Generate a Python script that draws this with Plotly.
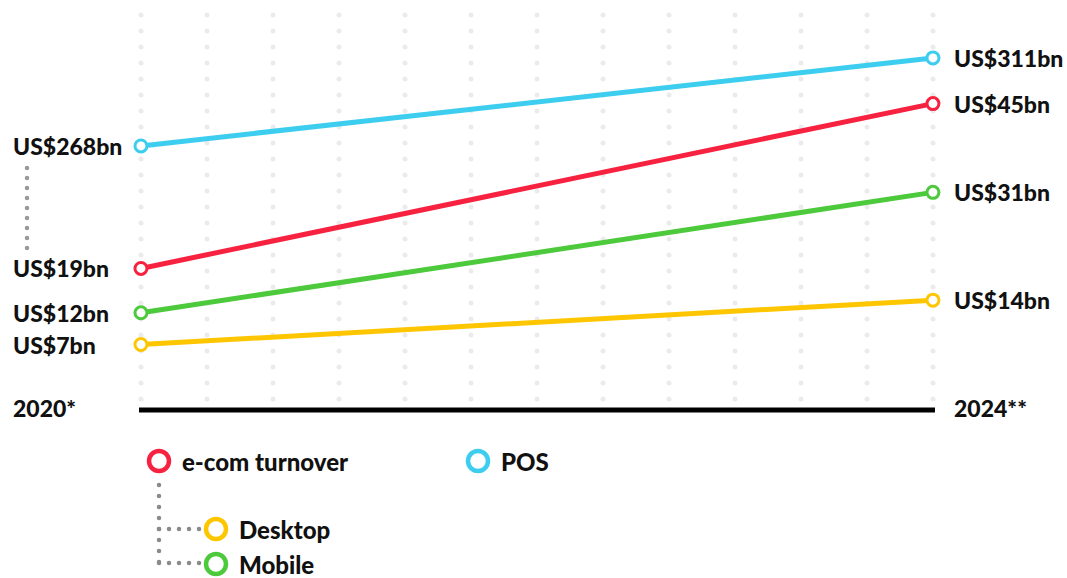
import numpy as np
import plotly.graph_objects as go

# ---- data -------------------------------------------------------------
years = [2020, 2024]
year_labels = ["2020*", "2024**"]
pos_values = [268, 311]        # point-of-sale turnover, US$bn
ecom_values = [19, 45]         # e-commerce turnover, US$bn
mobile_values = [12, 31]
desktop_values = [7, 14]

C_POS = "#3ccdef"
C_ECOM = "#f7223f"
C_MOBILE = "#4dc93c"
C_DESKTOP = "#fdc600"
TEXT = "#111111"
FONT = "Lato"
FSIZE = 23
W, H = 1067, 578

fig = go.Figure()

# ---- background dotted verticals (base pixel axes: x / y) --------------
grid_x = np.linspace(141, 933, 13)
grid_y = np.arange(15, 400, 16)
gx, gy = np.meshgrid(grid_x, grid_y)
fig.add_trace(go.Scatter(
    x=gx.ravel(), y=gy.ravel(), mode="markers",
    marker=dict(size=5, color="#ebebeb"), hoverinfo="skip", showlegend=False))

# baseline
fig.add_shape(type="line", xref="x", yref="y", x0=139, x1=935, y0=410, y1=410,
              line=dict(color="#000000", width=5))

# axis-break connector between the POS and e-com labels
brk_y = np.arange(168, 251, 10)
fig.add_trace(go.Scatter(
    x=[27] * len(brk_y), y=brk_y, mode="markers",
    marker=dict(size=4.5, color="#999999"), hoverinfo="skip", showlegend=False))

# ---- series lines (year axis x2, value axes y2 / y3) -------------------
def add_series(values, color, yaxis):
    fig.add_trace(go.Scatter(
        x=years, y=values, mode="lines+markers", xaxis="x2", yaxis=yaxis,
        line=dict(color=color, width=5),
        marker=dict(size=12, color="white", line=dict(color=color, width=3)),
        hoverinfo="skip", showlegend=False, cliponaxis=False))
    for x, v, shift in zip(years, values, (-130, 19)):
        fig.add_annotation(
            x=x, y=v, xref="x2", yref=yaxis, text=f"US${v}bn",
            showarrow=False, xanchor="left", xshift=shift,
            font=dict(family=FONT, size=FSIZE, color=TEXT, weight=900))

add_series(desktop_values, C_DESKTOP, "y2")
add_series(mobile_values, C_MOBILE, "y2")
add_series(ecom_values, C_ECOM, "y2")
add_series(pos_values, C_POS, "y3")

# year labels at the baseline
for x, lab, shift in zip(years, year_labels, (-130, 19)):
    fig.add_annotation(x=x, y=408, xref="x2", yref="y", text=lab,
                       showarrow=False, xanchor="left", xshift=shift,
                       font=dict(family=FONT, size=FSIZE, color=TEXT, weight=900))

# ---- legend -------------------------------------------------------------
conn_v = np.arange(485, 566, 11)
conn_h = np.arange(159, 200, 10)
fig.add_trace(go.Scatter(
    x=np.concatenate([[159] * len(conn_v), conn_h, conn_h]),
    y=np.concatenate([conn_v, [529] * len(conn_h), [563] * len(conn_h)]),
    mode="markers",
    marker=dict(size=4.5, color="#8a8a8a"), hoverinfo="skip", showlegend=False))

legend_items = [
    ("e-com turnover", C_ECOM, 159, 461),
    ("POS", C_POS, 478, 461),
    ("Desktop", C_DESKTOP, 216, 529),
    ("Mobile", C_MOBILE, 216, 564),
]
for name, color, lx, ly in legend_items:
    fig.add_trace(go.Scatter(
        x=[lx], y=[ly], mode="markers",
        marker=dict(size=20, color="white", line=dict(color=color, width=4.5)),
        hoverinfo="skip", showlegend=False, cliponaxis=False))
    fig.add_annotation(x=lx + 21, y=ly, xref="x", yref="y", text=name,
                       showarrow=False, xanchor="left",
                       font=dict(family=FONT, size=24, color=TEXT, weight=900))

# ---- layout -------------------------------------------------------------
hidden = dict(visible=False, showgrid=False, zeroline=False, fixedrange=True)
fig.update_layout(
    width=W, height=H, autosize=False,
    margin=dict(l=0, r=0, t=0, b=0),
    paper_bgcolor="white", plot_bgcolor="white",
    xaxis=dict(range=[0, W], domain=[0, 1], **hidden),
    yaxis=dict(range=[H, 0], domain=[0, 1], **hidden),
    xaxis2=dict(range=[2019.288, 2024.677], overlaying="x", **hidden),
    yaxis2=dict(range=[-29.83, 61.34], overlaying="y", anchor="x2", **hidden),
    yaxis3=dict(range=[56.9, 339.3], overlaying="y", anchor="x2", **hidden),
    showlegend=False,
)

fig.write_html("out.html", config={"displayModeBar": False})
